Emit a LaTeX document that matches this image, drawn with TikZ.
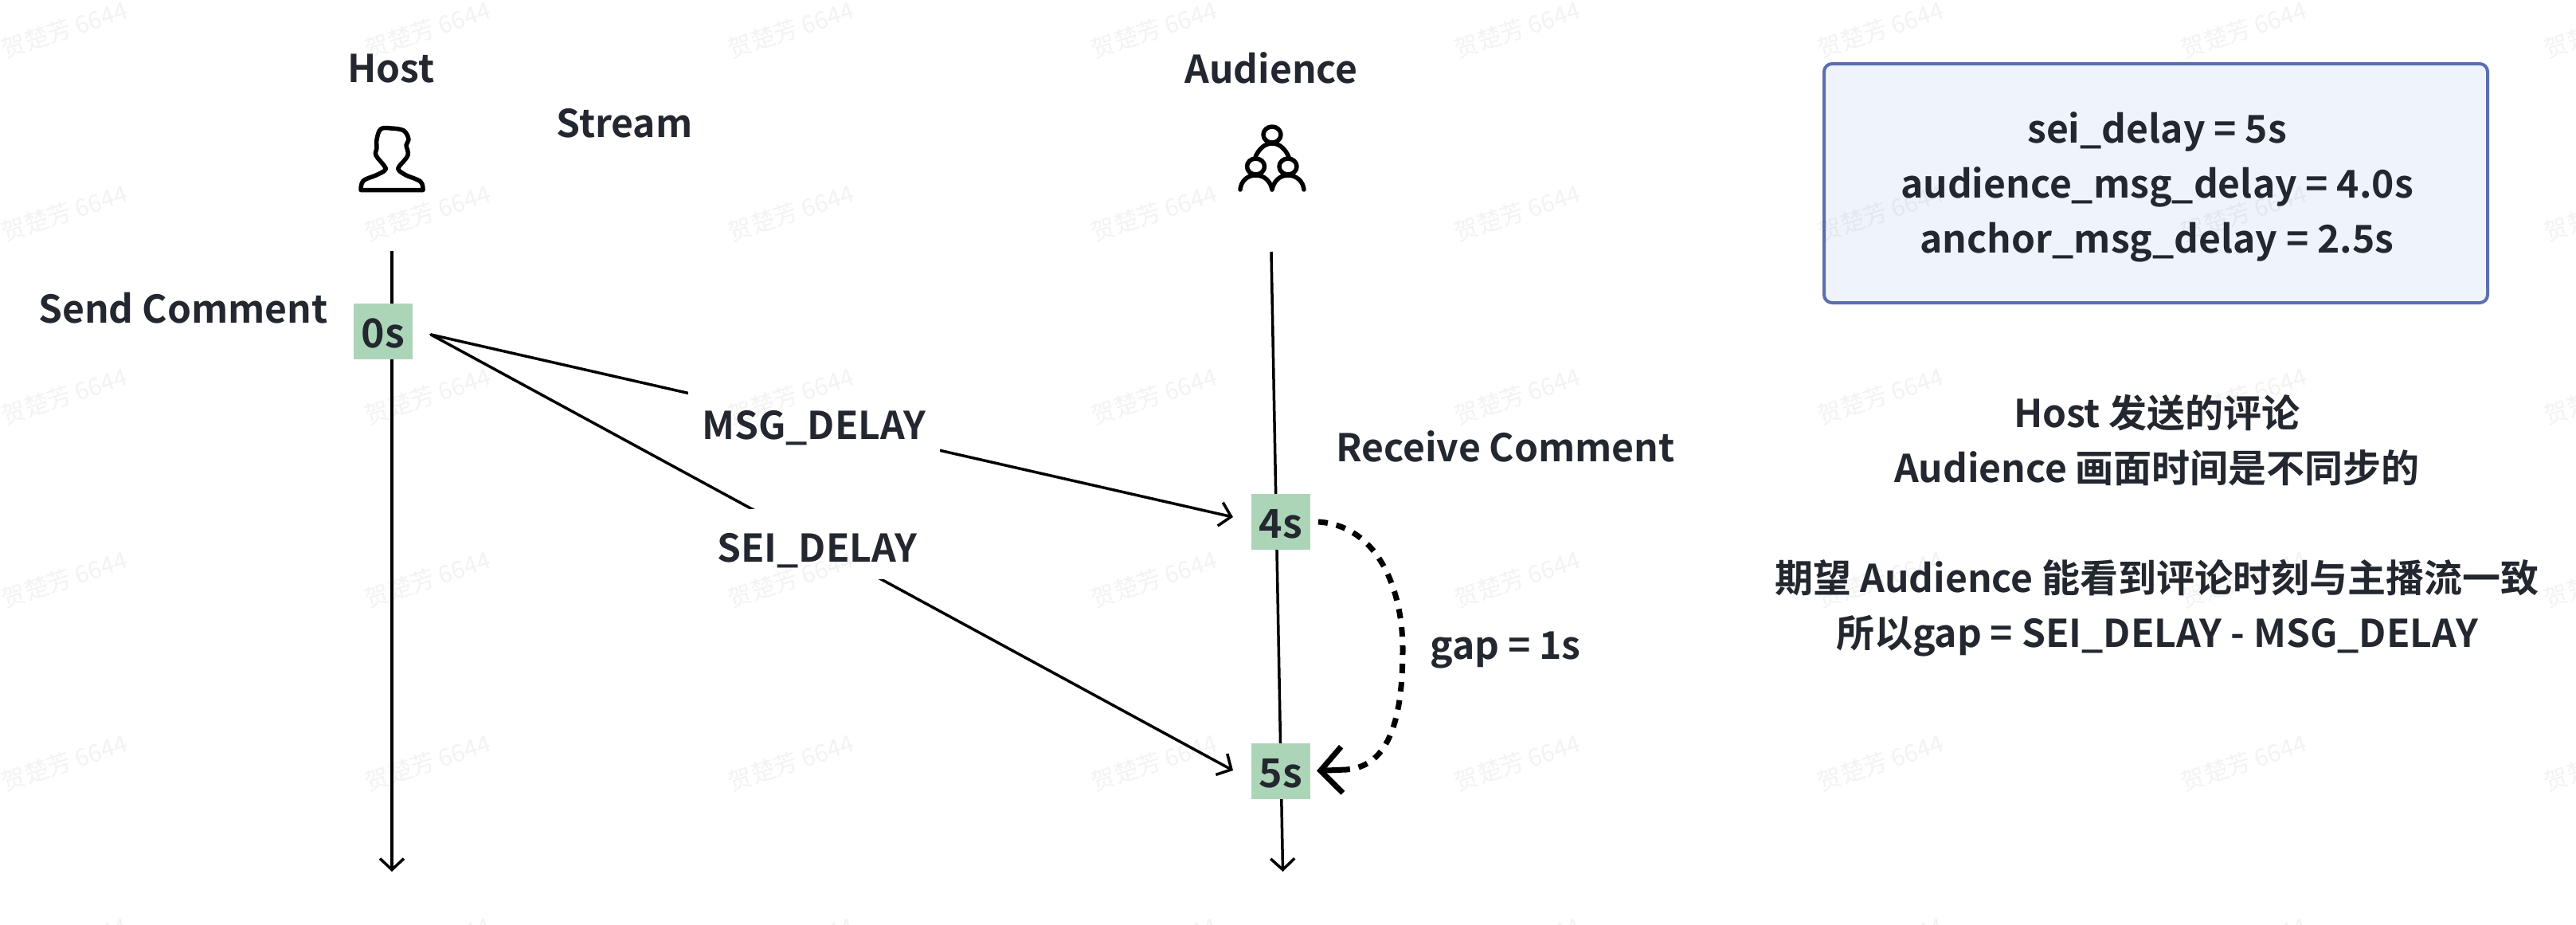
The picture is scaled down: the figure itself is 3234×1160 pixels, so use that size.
\documentclass[tikz,border=0pt]{standalone}
\usepackage{fontspec}
\setmainfont{Noto Sans CJK SC Bold}
\newfontfamily\wmfont{Noto Sans CJK SC}
\usetikzlibrary{arrows.meta}
\definecolor{ink}{HTML}{23272F}
\definecolor{tgreen}{HTML}{ACD5B8}
\definecolor{pfill}{HTML}{EFF3FC}
\definecolor{pedge}{HTML}{5B6FB0}
\tikzset{
  lab/.style={text=ink,inner sep=0pt,font=\fontsize{48}{69}\selectfont},
  tbox/.style={fill=tgreen,text=ink,inner sep=0pt,minimum width=74pt,minimum height=70pt,font=\fontsize{50}{69}\selectfont},
  axisline/.style={draw=black,line width=3.5pt,-{Straight Barb[length=14pt,width=30pt,line width=3.5pt]}},
  msgline/.style={draw=black,line width=3.5pt,line cap=round,-{Straight Barb[length=14pt,width=30pt,line width=3.5pt]}},
  gapline/.style={draw=black,line width=7pt,dash pattern=on 12pt off 11pt},
  gaptip/.style={draw=black,line width=7pt,line cap=round,-{Straight Barb[length=27pt,width=58pt,line width=7pt]}},
  mask/.style={fill=white,text=ink,inner sep=0pt,text height=45pt,text depth=1pt,font=\fontsize{48}{69}\selectfont},
  icon/.style={draw=black,line width=5.5pt,line join=round,line cap=round},
  wm/.style={text=ink,text opacity=.055,inner sep=0pt,rotate=18,font=\wmfont\fontsize{30}{30}\selectfont},
}
\begin{document}
\begin{tikzpicture}[x=1pt,y=-1pt]
\useasboundingbox (0,0) rectangle (3234,1160);
\fill[white] (0,0) rectangle (3234,1160);
% lifelines
\coordinate (hTop) at (492,315);
\coordinate (hBot) at (492,1094);
\coordinate (aTop) at (1596,316);
\coordinate (aBot) at (1610.5,1094);
\draw[axisline] (hTop) -- (hBot);
\draw[axisline] (aTop) -- (aBot);
% time boxes
\node[tbox,text height=43pt,text depth=2pt] (t0) at (481,416) {0s};
\node[tbox,text height=42pt,text depth=2pt] (t4) at (1608,655) {4s};
\node[tbox,text height=43pt,text depth=2pt] (t5) at (1608,967.5) {5s};
% messages
\coordinate (src) at (541,420);
\coordinate (msgEnd) at (1548,649);
\coordinate (seiEnd) at (1548,967);
\draw[msgline] (src) -- (msgEnd);
\draw[msgline] (src) -- (seiEnd);
\node[mask,minimum width=316pt,minimum height=76pt] (msg) at (1022,529) {MSG\_DELAY};
\node[mask,minimum width=154pt,minimum height=88pt] (sei) at (1026,683) {SEI\_DELAY};
% gap
\coordinate (gapStart) at (1655,655);
\coordinate (gapMid) at (1761,815);
\coordinate (gapJoin) at (1690,966);
\coordinate (gapEnd) at (1653,967.5);
\draw[gapline] (gapStart) .. controls (1730,660) and (1761,740) .. (gapMid)
  .. controls (1761,900) and (1745,962) .. (gapJoin);
\draw[gaptip] (gapJoin) -- (gapEnd);
% labels
\node[lab] (host) at (491,86) {Host};
\node[lab] (stream) at (784,155) {Stream};
\node[lab] (aud) at (1596,85) {Audience};
\node[lab] (send) at (230,387) {Send Comment};
\node[lab] (recv) at (1890,560) {Receive Comment};
\node[lab] (gap) at (1890,816) {gap = 1s};
% host icon
\draw[icon] plot[smooth,tension=.6] coordinates {(531,238.5) (528,228) (510,220) (501,214) (501,209) (512,195) (510,182) (513,175) (507,164) (491,161) (478,162) (473,175) (473,186) (472,195) (483,209) (483,214) (472,220) (456,227) (453,238.5)} -- cycle;
% audience icon
\draw[icon] (1597,169) ellipse [x radius=11,y radius=10];
\draw[icon] (1576.5,209) ellipse [x radius=11,y radius=10];
\draw[icon] (1617,209) ellipse [x radius=11,y radius=10];
\draw[icon] (1576,197) .. controls (1580,188) and (1587,180) .. (1597,180) .. controls (1607,180) and (1614,188) .. (1618,197);
\draw[icon] (1557,238) .. controls (1558,228) and (1565,220) .. (1576.5,220) .. controls (1588,220) and (1595,228) .. (1597,238)
  .. controls (1599,228) and (1606,220) .. (1617,220) .. controls (1628,220) and (1636,228) .. (1637,238);
% panel
\node[fill=pfill,draw=pedge,line width=4pt,rounded corners=10pt,minimum width=833pt,minimum height=300pt,inner sep=0pt] (panel) at (2706.5,230) {};
\node[lab,align=center] (ptext) at (2708,235) {sei\_delay = 5s\\audience\_msg\_delay = 4.0s\\anchor\_msg\_delay = 2.5s};
\node[lab,align=center] (note) at (2708,660) {Host 发送的评论\\Audience 画面时间是不同步的\\[69pt]期望 Audience 能看到评论时刻与主播流一致\\所以gap = SEI\_DELAY - MSG\_DELAY};
% watermark
\foreach \wx in {81,537,993,1449,1905,2361,2817,3273}
  \foreach \wy in {37,267,497,727,957,1187}
    \node[wm] at (\wx,\wy) {贺楚芳 6644};
\end{tikzpicture}
\end{document}
